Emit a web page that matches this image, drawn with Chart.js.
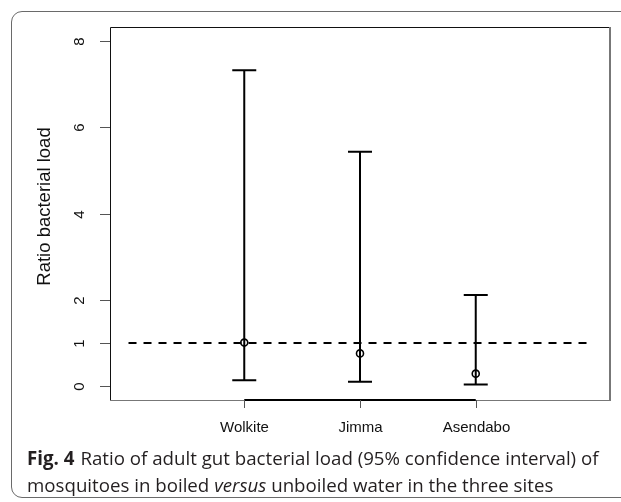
<!DOCTYPE html>
<html lang="en">
<head>
  <meta charset="UTF-8" />
  <title>Fig. 4 Ratio bacterial load</title>
  <script src="https://cdn.jsdelivr.net/npm/chart.js"></script>
  <style>
    body {
      margin: 0;
      background: white;
      width: 621px;
      height: 502px;
      overflow: hidden;
      position: relative;
    }

    .frame {
      position: absolute;
      left: 11px;
      top: 11px;
      width: 640px;
      height: 487px;
      border: 1px solid #6a6a6a;
      border-radius: 11px;
      box-sizing: border-box;
    }

    canvas {
      position: absolute;
      left: 0;
      top: 0;
    }

    .caption {
      position: absolute;
      left: 27px;
      top: 444px;
      font-family: "Open Sans", sans-serif;
      font-size: 18.7px;
      line-height: 27px;
      color: #231f20;
      white-space: nowrap;
    }

    .caption b {
      margin-right: 6px;
    }
  </style>
</head>
<body>
  <div class="frame"></div>
  <canvas id="ciChart" width="621" height="502"></canvas>
  <div class="caption">
    <b>Fig. 4</b>Ratio of adult gut bacterial load (95% confidence interval) of<br>
    mosquitoes in boiled <i>versus</i> unboiled water in the three sites
  </div>

  <script>
    // sites and ratio estimates with 95% CI
    const sites = ['Wolkite', 'Jimma', 'Asendabo'];
    const ratio = [1.01, 0.76, 0.29];
    const lower = [0.14, 0.10, 0.04];
    const upper = [7.32, 5.43, 2.11];
    const yTicks = [0, 1, 2, 4, 6, 8];
    const refLine = 1;

    const font = '"Liberation Sans", Arial, sans-serif';

    // whiskers + R-style axes, all positioned through the chart scales
    const rPlot = {
      id: 'rPlot',
      beforeDatasetsDraw(chart) {
        const { ctx } = chart;
        const xs = chart.scales.x, ys = chart.scales.y;
        ctx.save();
        ctx.strokeStyle = '#000';
        ctx.lineWidth = 2;
        sites.forEach((s, i) => {
          const px = xs.getPixelForValue(i + 1);
          const lo = ys.getPixelForValue(lower[i]);
          const hi = ys.getPixelForValue(upper[i]);
          ctx.beginPath();
          ctx.moveTo(px, lo); ctx.lineTo(px, hi);
          ctx.moveTo(px - 12, lo); ctx.lineTo(px + 12, lo);
          ctx.moveTo(px - 12, hi); ctx.lineTo(px + 12, hi);
          ctx.stroke();
        });
        ctx.restore();
      },
      afterDraw(chart) {
        const { ctx, chartArea: a } = chart;
        const xs = chart.scales.x, ys = chart.scales.y;
        ctx.save();
        // box
        ctx.lineWidth = 1;
        ctx.strokeStyle = '#111';
        ctx.beginPath();
        ctx.moveTo(a.left + 0.5, a.bottom); ctx.lineTo(a.left + 0.5, a.top + 0.5);
        ctx.lineTo(a.right, a.top + 0.5);
        ctx.stroke();
        ctx.strokeStyle = '#777';
        ctx.beginPath();
        ctx.moveTo(a.left, a.bottom + 0.5); ctx.lineTo(a.right, a.bottom + 0.5);
        ctx.stroke();
        ctx.lineWidth = 2;
        ctx.beginPath();
        ctx.moveTo(a.right, a.top); ctx.lineTo(a.right, a.bottom + 1);
        ctx.stroke();

        // x axis line and ticks
        const x1 = xs.getPixelForValue(1), x3 = xs.getPixelForValue(sites.length);
        ctx.strokeStyle = '#000';
        ctx.lineWidth = 2;
        ctx.beginPath();
        ctx.moveTo(x1, a.bottom); ctx.lineTo(x3, a.bottom);
        ctx.stroke();
        ctx.lineWidth = 1;
        ctx.strokeStyle = '#555';
        ctx.fillStyle = '#111';
        ctx.font = '15px ' + font;
        ctx.textAlign = 'center';
        ctx.textBaseline = 'middle';
        sites.forEach((s, i) => {
          const px = Math.round(xs.getPixelForValue(i + 1)) + 0.5;
          ctx.beginPath();
          ctx.moveTo(px, a.bottom); ctx.lineTo(px, a.bottom + 8);
          ctx.stroke();
          ctx.fillText(s, px, a.bottom + 28);
        });

        // y ticks, rotated labels
        yTicks.forEach(t => {
          const py = Math.round(ys.getPixelForValue(t)) + 0.5;
          ctx.beginPath();
          ctx.moveTo(a.left, py); ctx.lineTo(a.left - 10, py);
          ctx.stroke();
          ctx.save();
          ctx.translate(a.left - 30, py);
          ctx.rotate(-Math.PI / 2);
          ctx.fillText(String(t), 0, 0);
          ctx.restore();
        });

        // y title
        ctx.save();
        ctx.font = '18.5px ' + font;
        ctx.translate(45, (a.top + a.bottom) / 2 - 7);
        ctx.rotate(-Math.PI / 2);
        ctx.fillText('Ratio bacterial load', 0, 0);
        ctx.restore();
        ctx.restore();
      }
    };

    new Chart(document.getElementById('ciChart'), {
      type: 'scatter',
      data: {
        datasets: [
          {
            label: 'reference',
            type: 'line',
            data: [{ x: 0, y: refLine }, { x: 4, y: refLine }],
            borderColor: '#000',
            borderWidth: 2,
            borderDash: [8, 7],
            pointRadius: 0,
            fill: false
          },
          {
            label: 'ratio',
            data: ratio.map((v, i) => ({ x: i + 1, y: v })),
            pointStyle: 'circle',
            pointRadius: 3.5,
            pointBorderWidth: 1.6,
            pointBackgroundColor: 'rgba(0,0,0,0)',
            pointBorderColor: '#000'
          }
        ]
      },
      options: {
        responsive: false,
        animation: false,
        layout: { padding: { left: 110, top: 27, right: 11, bottom: 102 } },
        plugins: { legend: { display: false }, tooltip: { enabled: false } },
        scales: {
          x: { type: 'linear', min: -0.16, max: 4.16, display: false },
          y: { min: -0.32, max: 8.32, display: false }
        }
      },
      plugins: [rPlot]
    });
  </script>
</body>
</html>
